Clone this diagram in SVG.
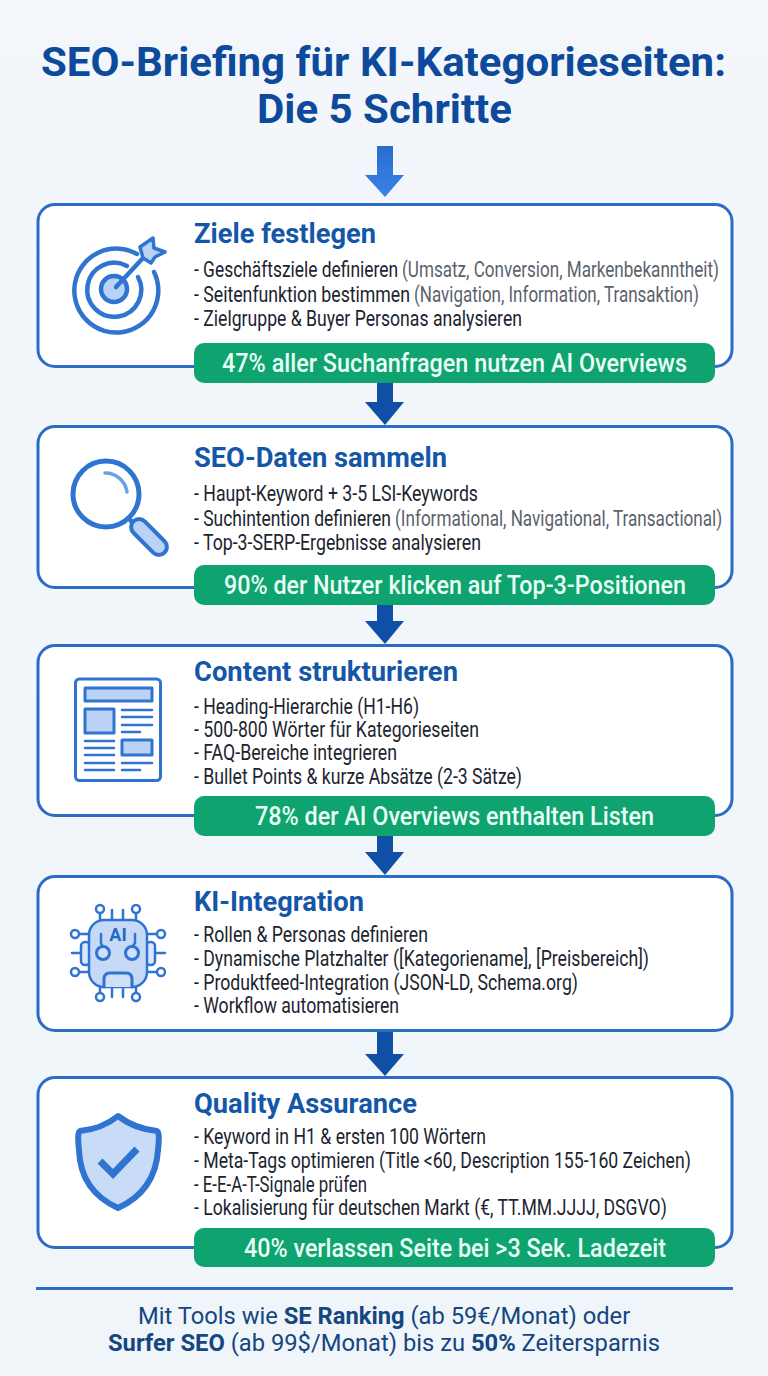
<svg xmlns="http://www.w3.org/2000/svg" width="768" height="1376" viewBox="0 0 768 1376">
<style>
text{font-family:Roboto,"Liberation Sans",sans-serif}
.title{font-size:40px;font-weight:700;fill:#0d4a9c}
.box{fill:#fff;stroke:#2b6cc4;stroke-width:3}
.h{font-size:27px;font-weight:700;fill:#1457a8}
.b{font-size:22px;fill:#1b2430}
.g{fill:#5a626c}
.pill{fill:#0ea36f}
.pt{font-size:26px;font-weight:500;fill:#e9fff6}
.foot{font-size:24.500px;fill:#14467f}
.fb{font-weight:700}
.ic{fill:none;stroke:#2f74d0;stroke-linecap:round;stroke-linejoin:round}
.lf{fill:#b9d2f5}
.ar{fill:#0f4fa6}
</style>
<defs>
<linearGradient id="bg" x1="0" y1="0" x2="0" y2="1"><stop offset="0" stop-color="#f3f7fb"/><stop offset="1" stop-color="#f0f5fa"/></linearGradient>
<linearGradient id="a1" x1="0" y1="0" x2="0" y2="1"><stop offset="0" stop-color="#2a6dd0"/><stop offset="1" stop-color="#3a82e6"/></linearGradient>
</defs>
<rect width="768" height="1376" fill="url(#bg)"/>
<g id="title">
<text class="title" x="41" y="76" textLength="685" lengthAdjust="spacingAndGlyphs">SEO-Briefing für KI-Kategorieseiten:</text>
<text class="title" x="257" y="123" textLength="255" lengthAdjust="spacingAndGlyphs">Die 5 Schritte</text>
</g>
<g id="node1">
<rect class="box" x="38" y="204.500" width="694" height="162" rx="17"/>
<g class="ic" stroke-width="4.500">
<path d="M137 254A42 42 0 1 0 154 272"/>
<path d="M127 266A27 27 0 1 0 138 277"/>
<circle cx="114" cy="289" r="13" class="lf"/>
<path d="M116 287L143 258" stroke-width="4.500"/>
<path d="M153 238L154 248L165 252L155 257L151 263L143 258L140 247Z" class="lf" stroke-width="3.500"/>
</g>
<text class="h" x="194" y="243" textLength="182" lengthAdjust="spacingAndGlyphs">Ziele festlegen</text>
<text class="b" transform="translate(194 277) scale(.8 1)" textLength="255" lengthAdjust="spacingAndGlyphs">- Geschäftsziele definieren</text>
<text class="b g" transform="translate(402 277) scale(.777 1)" textLength="408" lengthAdjust="spacingAndGlyphs">(Umsatz, Conversion, Markenbekanntheit)</text>
<text class="b" transform="translate(194 302) scale(.8 1)" textLength="270" lengthAdjust="spacingAndGlyphs">- Seitenfunktion bestimmen</text>
<text class="b g" transform="translate(414 302) scale(.774 1)" textLength="368" lengthAdjust="spacingAndGlyphs">(Navigation, Information, Transaktion)</text>
<text class="b" x="194" y="326" textLength="328" lengthAdjust="spacingAndGlyphs">- Zielgruppe &amp; Buyer Personas analysieren</text>
<rect class="pill" x="194" y="343" width="521" height="40" rx="10"/>
<text class="pt" x="222" y="372" textLength="465" lengthAdjust="spacingAndGlyphs">47% aller Suchanfragen nutzen AI Overviews</text>
</g>
<g id="node2">
<rect class="box" x="38" y="426.500" width="694" height="161" rx="17"/>
<g class="ic">
<circle cx="106" cy="494" r="33" stroke-width="5" fill="#fff"/>
<path d="M105 473A22 22 0 0 1 127 492" stroke-width="3.500" stroke="#6d9fe3"/>
<path d="M131 521L135 525" stroke-width="5"/>
<rect x="-8" y="-22" width="16" height="44" rx="8" transform="translate(149 537) rotate(-45)" class="lf" stroke-width="4"/>
</g>
<text class="h" x="194" y="467" textLength="253" lengthAdjust="spacingAndGlyphs">SEO-Daten sammeln</text>
<text class="b" x="194" y="501" textLength="284" lengthAdjust="spacingAndGlyphs">- Haupt-Keyword + 3-5 LSI-Keywords</text>
<text class="b" transform="translate(194 526) scale(.8 1)" textLength="246" lengthAdjust="spacingAndGlyphs">- Suchintention definieren</text>
<text class="b g" transform="translate(395 526) scale(.779 1)" textLength="420" lengthAdjust="spacingAndGlyphs">(Informational, Navigational, Transactional)</text>
<text class="b" x="194" y="550" textLength="287" lengthAdjust="spacingAndGlyphs">- Top-3-SERP-Ergebnisse analysieren</text>
<rect class="pill" x="194" y="565" width="521" height="40" rx="10"/>
<text class="pt" x="224" y="594" textLength="462" lengthAdjust="spacingAndGlyphs">90% der Nutzer klicken auf Top-3-Positionen</text>
</g>
<g id="node3">
<rect class="box" x="38" y="645.500" width="694" height="170" rx="17"/>
<g class="ic" stroke-width="3">
<rect x="75.500" y="679" width="85" height="101.500" rx="4" fill="#fff"/>
<rect x="85" y="688" width="67" height="13" class="lf"/>
<rect x="85" y="709" width="29" height="24" class="lf"/>
<rect x="122" y="740" width="30" height="15" class="lf"/>
<path d="M122 710H152M122 717H152M122 725H152M122 732H140M85 741H114M85 748H114M85 755H114M85 763H114M85 770H114M122 763H152M122 770H140" stroke-width="2.500"/>
</g>
<text class="h" x="194" y="681" textLength="264" lengthAdjust="spacingAndGlyphs">Content strukturieren</text>
<text class="b" x="194" y="714" textLength="225" lengthAdjust="spacingAndGlyphs">- Heading-Hierarchie (H1-H6)</text>
<text class="b" x="194" y="737" textLength="285" lengthAdjust="spacingAndGlyphs">- 500-800 Wörter für Kategorieseiten</text>
<text class="b" x="194" y="760" textLength="203" lengthAdjust="spacingAndGlyphs">- FAQ-Bereiche integrieren</text>
<text class="b" x="194" y="784" textLength="328" lengthAdjust="spacingAndGlyphs">- Bullet Points &amp; kurze Absätze (2-3 Sätze)</text>
<rect class="pill" x="194" y="796" width="521" height="40" rx="10"/>
<text class="pt" x="255" y="825" textLength="399" lengthAdjust="spacingAndGlyphs">78% der AI Overviews enthalten Listen</text>
</g>
<g id="node4">
<rect class="box" x="38" y="876.500" width="694" height="154" rx="17"/>
<g class="ic" stroke-width="2.500">
<path d="M72 953H81M156 953H165M112 920V910M123 920V910M112 987V997M123 987V997"/>
<path d="M100 913V921M136 913V921M100 986V993M136 986V993M79 934H89M147 934H157M79 972H89M147 972H157"/>
<rect x="81" y="942" width="9" height="23" rx="4" fill="#dbe8fa"/>
<rect x="146" y="942" width="9" height="23" rx="4" fill="#dbe8fa"/>
<rect x="89" y="920" width="58" height="67" rx="15" fill="#c6daf7"/>
<text x="118" y="941" font-size="18" font-weight="700" fill="#2468c4" stroke="none" text-anchor="middle">AI</text>
<path d="M101 934V943L103 947M135 934V943L132 947"/>
<circle cx="103" cy="953" r="6.500" fill="#cfe0f8" stroke-width="3"/>
<circle cx="132" cy="953" r="6.500" fill="#cfe0f8" stroke-width="3"/>
<path d="M104 987V979Q104 973 110 973H126Q132 973 132 979V987" fill="#cfe0f8" stroke-width="3"/>
<circle cx="100" cy="909" r="4" fill="#fff"/><circle cx="136" cy="909" r="4" fill="#fff"/>
<circle cx="100" cy="997" r="4" fill="#fff"/><circle cx="136" cy="997" r="4" fill="#fff"/>
<circle cx="75" cy="934" r="4" fill="#fff"/><circle cx="161" cy="934" r="4" fill="#fff"/>
<circle cx="75" cy="972" r="4" fill="#fff"/><circle cx="161" cy="972" r="4" fill="#fff"/>
</g>
<text class="h" x="194" y="911" textLength="170" lengthAdjust="spacingAndGlyphs">KI-Integration</text>
<text class="b" x="194" y="942" textLength="234" lengthAdjust="spacingAndGlyphs">- Rollen &amp; Personas definieren</text>
<text class="b" x="194" y="966" textLength="455" lengthAdjust="spacingAndGlyphs">- Dynamische Platzhalter ([Kategoriename], [Preisbereich])</text>
<text class="b" x="194" y="990" textLength="384" lengthAdjust="spacingAndGlyphs">- Produktfeed-Integration (JSON-LD, Schema.org)</text>
<text class="b" x="194" y="1013" textLength="205" lengthAdjust="spacingAndGlyphs">- Workflow automatisieren</text>
</g>
<g id="node5">
<rect class="box" x="38" y="1077.500" width="694" height="170" rx="17"/>
<g>
<path d="M118 1116Q135 1129 157 1131Q160 1132 158 1150C156 1180 140 1198 118 1208C96 1198 80 1180 79 1150Q77 1132 80 1131Q102 1129 118 1116Z" fill="#c9dcf7" stroke="#2f74d0" stroke-width="6" stroke-linejoin="round"/>
<path d="M100 1161L113 1174L137 1149" fill="none" stroke="#2f74d0" stroke-width="7"/>
</g>
<text class="h" x="194" y="1113" textLength="223" lengthAdjust="spacingAndGlyphs">Quality Assurance</text>
<text class="b" x="194" y="1144" textLength="292" lengthAdjust="spacingAndGlyphs">- Keyword in H1 &amp; ersten 100 Wörtern</text>
<text class="b" transform="translate(194 1168) scale(.8 1)" textLength="621" lengthAdjust="spacingAndGlyphs">- Meta-Tags optimieren (Title &lt;60, Description 155-160 Zeichen)</text>
<text class="b" x="194" y="1192" textLength="173" lengthAdjust="spacingAndGlyphs">- E-E-A-T-Signale prüfen</text>
<text class="b" transform="translate(194 1215) scale(.8 1)" textLength="591" lengthAdjust="spacingAndGlyphs">- Lokalisierung für deutschen Markt (€, TT.MM.JJJJ, DSGVO)</text>
<rect class="pill" x="194" y="1228" width="521" height="39" rx="10"/>
<text class="pt" x="244" y="1257" textLength="422" lengthAdjust="spacingAndGlyphs">40% verlassen Seite bei &gt;3 Sek. Ladezeit</text>
</g>
<g id="connectors">
<path fill="url(#a1)" d="M377 146H393V175H404L385 197L365 175H377Z"/>
<path class="ar" d="M377 383H393V402H404L385 425L365 402H377Z"/>
<path class="ar" d="M377 605H393V621H404L385 644L365 621H377Z"/>
<path class="ar" d="M377 836H393V852H404L385 875L365 852H377Z"/>
<path class="ar" d="M377 1032H393V1054H404L385 1076L365 1054H377Z"/>
</g>
<g id="footer">
<rect x="36" y="1287" width="697" height="3" fill="#2b6cc4"/>
<text class="foot" transform="translate(138 1323.500) scale(.92 1)" textLength="535" lengthAdjust="spacingAndGlyphs">Mit Tools wie <tspan class="fb">SE Ranking</tspan> (ab 59€/Monat) oder</text>
<text class="foot" transform="translate(108 1351) scale(.92 1)" textLength="600" lengthAdjust="spacingAndGlyphs"><tspan class="fb">Surfer SEO</tspan> (ab 99$/Monat) bis zu <tspan class="fb">50%</tspan> Zeitersparnis</text>
</g>
</svg>
